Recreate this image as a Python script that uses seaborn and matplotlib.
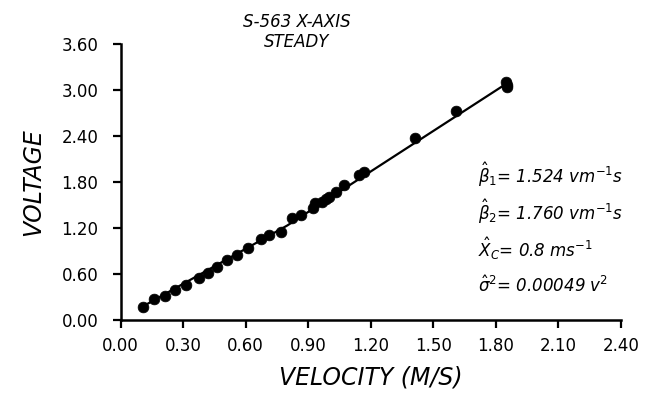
import matplotlib
matplotlib.use("Agg")
import matplotlib.pyplot as plt
import seaborn as sns
import pandas as pd

# data
velocity = [0.106, 0.159, 0.211, 0.261, 0.312, 0.374, 0.418, 0.461, 0.512, 0.560,
            0.610, 0.672, 0.712, 0.768, 0.824, 0.866, 0.925, 0.933, 0.965, 0.986,
            1.000, 1.034, 1.072, 1.146, 1.168, 1.413, 1.608, 1.848, 1.853, 1.855]
voltage = [0.166, 0.270, 0.317, 0.387, 0.452, 0.551, 0.613, 0.687, 0.782, 0.847,
           0.935, 1.052, 1.112, 1.151, 1.326, 1.365, 1.456, 1.529, 1.542, 1.573,
           1.600, 1.673, 1.760, 1.890, 1.933, 2.369, 2.729, 3.107, 3.064, 3.034]
fit_x = [0.10, 0.80, 1.84]
fit_y = [0.166, 1.233, 3.064]
x_ticks = [0.0, 0.3, 0.6, 0.9, 1.2, 1.5, 1.8, 2.1, 2.4]
y_ticks = [0.0, 0.6, 1.2, 1.8, 2.4, 3.0, 3.6]
title_lines = ["S-563 X-AXIS", "STEADY"]
stats_lines = [r"$\hat{\beta}_{1}$= 1.524 vm$^{-1}$s",
               r"$\hat{\beta}_{2}$= 1.760 vm$^{-1}$s",
               r"$\hat{X}_{C}$= 0.8 ms$^{-1}$",
               r"$\hat{\sigma}^{2}$= 0.00049 v$^{2}$"]

sns.set_style("ticks")
plt.rcParams["font.family"] = ["DejaVu Sans"]
plt.rcParams["mathtext.fontset"] = "dejavusans"
plt.rcParams["text.color"] = "black"
plt.rcParams["axes.labelcolor"] = "black"

pts = pd.DataFrame({"velocity": velocity, "voltage": voltage})
fit = pd.DataFrame({"velocity": fit_x, "voltage": fit_y})

fig = plt.figure(figsize=(6.52, 3.94), dpi=100)
ax = fig.add_axes([0.185, 0.188, 0.767, 0.700])

sns.lineplot(data=fit, x="velocity", y="voltage", ax=ax, color="black",
             linewidth=1.6, estimator=None, sort=False)
sns.scatterplot(data=pts, x="velocity", y="voltage", ax=ax, color="black",
                s=60, edgecolor="black", linewidth=0.5, zorder=3)

ax.set_xlim(0, 2.4)
ax.set_ylim(0, 3.6)
ax.set_xticks(x_ticks)
ax.set_yticks(y_ticks)
ax.set_xticklabels([f"{v:.2f}" for v in x_ticks])
ax.set_yticklabels([f"{v:.2f}" for v in y_ticks])
ax.tick_params(axis="both", direction="out", length=6, width=1.6,
               labelsize=12, colors="black")
ax.tick_params(axis="y", pad=10)
ax.tick_params(axis="x", pad=6)
sns.despine(ax=ax)
for s in ["left", "bottom"]:
    ax.spines[s].set_linewidth(1.8)
    ax.spines[s].set_color("black")

ax.set_xlabel("VELOCITY (M/S)", fontsize=17, style="italic", labelpad=8)
ax.set_ylabel("VOLTAGE", fontsize=17, style="italic", labelpad=12)

fig.text(0.455, 0.945, title_lines[0], ha="center", va="center",
         fontsize=12, style="italic")
fig.text(0.455, 0.893, title_lines[1], ha="center", va="center",
         fontsize=12, style="italic")

for i, line in enumerate(stats_lines):
    fig.text(0.733, 1 - (175 + i * 37) / 394, line, ha="left", va="center",
             fontsize=12, style="italic")

fig.savefig("out.png", dpi=100)
